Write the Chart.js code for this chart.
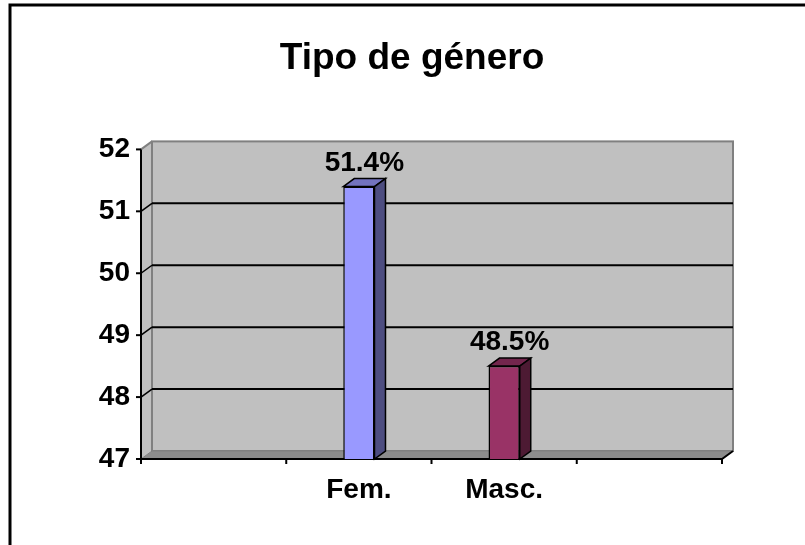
<!DOCTYPE html>
<html>
<head>
<meta charset="utf-8">
<script src="https://cdn.jsdelivr.net/npm/chart.js@4"></script>
<style>
  body { margin: 0; background: #fff; }
  #wrap { width: 805px; height: 545px; position: relative; }
</style>
</head>
<body>
<div id="wrap"><canvas id="graphCanvas"></canvas></div>
<script>
// data
const categories = ['', 'Fem.', 'Masc.', ''];
const generoValues = [null, 51.4, 48.5, null];
const yTicks = [47, 48, 49, 50, 51, 52];

const barColors = ['#9999ff', '#9999ff', '#993366', '#993366'];
const topColors = ['#7373bf', '#7373bf', '#73264d', '#73264d'];
const sideColors = ['#4d4d80', '#4d4d80', '#4d1a33', '#4d1a33'];

const FONT = "'Liberation Sans', Arial, sans-serif";
const DX = 11, DY = 8; // profundidad 3D

function poly(ctx, pts, fill, stroke, lw) {
    ctx.beginPath();
    ctx.moveTo(pts[0][0], pts[0][1]);
    for (let i = 1; i < pts.length; i++) ctx.lineTo(pts[i][0], pts[i][1]);
    ctx.closePath();
    if (fill) { ctx.fillStyle = fill; ctx.fill(); }
    if (stroke) { ctx.strokeStyle = stroke; ctx.lineWidth = lw || 1; ctx.stroke(); }
}

function line(ctx, x1, y1, x2, y2, color, lw) {
    ctx.beginPath();
    ctx.moveTo(x1, y1);
    ctx.lineTo(x2, y2);
    ctx.strokeStyle = color;
    ctx.lineWidth = lw;
    ctx.stroke();
}

// paredes, piso y lineas de division estilo Excel 3D
const wallsPlugin = {
    id: 'walls',
    beforeDraw(chart) {
        const ctx = chart.ctx;
        ctx.save();
        // marco exterior
        ctx.beginPath();
        ctx.moveTo(10, chart.height);
        ctx.lineTo(10, 5);
        ctx.lineTo(chart.width, 5);
        ctx.strokeStyle = '#000';
        ctx.lineWidth = 3;
        ctx.stroke();
        ctx.restore();
    },
    beforeDatasetsDraw(chart) {
        const { ctx, chartArea: a, scales: { x, y } } = chart;
        ctx.save();
        // pared izquierda
        poly(ctx, [[a.left, a.top], [a.left + DX, a.top - DY], [a.left + DX, a.bottom - DY], [a.left, a.bottom]], '#c0c0c0');
        line(ctx, a.left, a.top, a.left + DX, a.top - DY, '#808080', 2);
        // pared de fondo
        ctx.fillStyle = '#c0c0c0';
        ctx.fillRect(a.left + DX, a.top - DY, a.width, a.height);
        ctx.strokeStyle = '#808080';
        ctx.lineWidth = 2;
        ctx.strokeRect(a.left + DX, a.top - DY, a.width, a.height);
        // piso
        poly(ctx, [[a.left, a.bottom], [a.right, a.bottom], [a.right + DX, a.bottom - DY], [a.left + DX, a.bottom - DY]], '#8c8c8c', '#808080', 1);
        // lineas de division
        yTicks.forEach(v => {
            if (v === y.min || v === y.max) return;
            const py = y.getPixelForValue(v);
            line(ctx, a.left + DX, py - DY, a.right + DX, py - DY, '#000', 2);
            line(ctx, a.left, py, a.left + DX, py - DY, '#000', 1.5);
        });
        // ejes frontales
        ctx.beginPath();
        ctx.moveTo(a.left, a.top);
        ctx.lineTo(a.left, a.bottom);
        ctx.lineTo(a.right, a.bottom);
        ctx.lineTo(a.right + DX, a.bottom - DY);
        ctx.strokeStyle = '#000';
        ctx.lineWidth = 2;
        ctx.stroke();
        yTicks.forEach(v => {
            const py = y.getPixelForValue(v);
            line(ctx, a.left - 5, py, a.left, py, '#000', 2);
        });
        for (let i = 0; i <= categories.length; i++) {
            const px = x.getPixelForValue(i - 0.5);
            line(ctx, px, a.bottom, px, a.bottom + 5, '#000', 2);
        }
        ctx.restore();
    },
    afterDatasetsDraw(chart) {
        const { ctx, chartArea: a } = chart;
        const meta = chart.getDatasetMeta(0);
        ctx.save();
        meta.data.forEach((bar, i) => {
            const v = generoValues[i];
            if (v === null) return;
            const p = bar.getProps(['x', 'y', 'base', 'width'], true);
            const l = p.x - p.width / 2, r = p.x + p.width / 2;
            const b = Math.min(p.base, a.bottom);
            // cara superior
            poly(ctx, [[l, p.y], [l + DX, p.y - DY], [r + DX, p.y - DY], [r, p.y]], topColors[i], '#000', 1.5);
            // cara lateral
            poly(ctx, [[r, p.y], [r + DX, p.y - DY], [r + DX, b - DY], [r, b]], sideColors[i], '#000', 1.5);
            // etiqueta
            ctx.fillStyle = '#000';
            ctx.font = 'bold 28px ' + FONT;
            ctx.textAlign = 'center';
            ctx.textBaseline = 'alphabetic';
            ctx.fillText(v.toFixed(1) + '%', p.x + DX / 2, p.y - DY - 8);
        });
        ctx.restore();
    }
};

const ctx = document.getElementById('graphCanvas');

new Chart(ctx, {
    type: 'bar',
    data: {
        labels: categories,
        datasets: [{
            label: 'Tipo de género',
            data: generoValues,
            backgroundColor: barColors,
            borderColor: '#000',
            borderWidth: 1.5,
            categoryPercentage: 1,
            barPercentage: 0.215
        }]
    },
    options: {
        responsive: true,
        maintainAspectRatio: false,
        animation: false,
        layout: {
            padding: { left: 91, right: 72, top: 7, bottom: 0 }
        },
        plugins: {
            legend: { display: false },
            tooltip: { enabled: false },
            title: {
                display: true,
                text: 'Tipo de género',
                color: '#000',
                font: { family: FONT, size: 37, weight: 'bold' },
                padding: { top: 30, bottom: 68 }
            }
        },
        scales: {
            x: {
                grid: { display: false, drawTicks: false },
                border: { display: false },
                ticks: {
                    color: '#000',
                    font: { family: FONT, size: 28, weight: 'bold' },
                    padding: 14,
                    autoSkip: false,
                    maxRotation: 0
                },
                afterFit(scale) { scale.height = 86; }
            },
            y: {
                min: yTicks[0],
                max: yTicks[yTicks.length - 1],
                grid: { display: false, drawTicks: false },
                border: { display: false },
                ticks: {
                    stepSize: 1,
                    color: '#000',
                    font: { family: FONT, size: 28, weight: 'bold' },
                    padding: 11
                },
                afterFit(scale) { scale.width = 50; }
            },
            // espacio a la derecha para la profundidad 3D
            depth: {
                position: 'right',
                display: true,
                min: yTicks[0],
                max: yTicks[yTicks.length - 1],
                grid: { display: false, drawTicks: false },
                border: { display: false },
                ticks: { display: false },
                afterFit(scale) { scale.width = 11; }
            }
        }
    },
    plugins: [wallsPlugin]
});
</script>
</body>
</html>
